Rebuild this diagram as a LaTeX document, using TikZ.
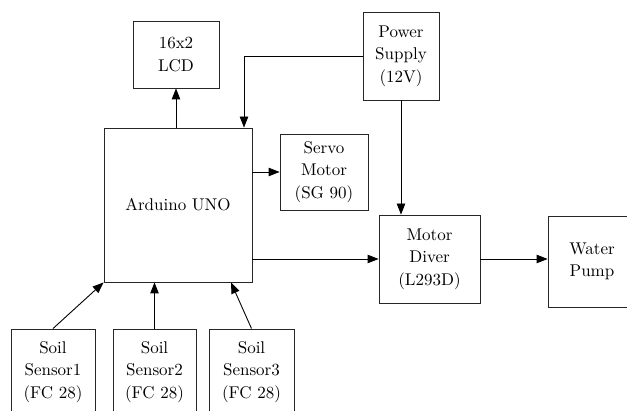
\documentclass[tikz,border=0pt]{standalone}
\usepackage{fontspec}
\setmainfont{lmroman10-regular.otf}
\usetikzlibrary{arrows.meta,calc}
\begin{document}
\begin{tikzpicture}[x=1pt,y=-1pt,
  blk/.style={draw=black!85,line width=0.9pt,rectangle,inner sep=0pt,align=center,
    font=\fontsize{17}{22.5}\selectfont},
  arr/.style={draw=black,line width=0.9pt,-{Triangle[length=11pt,width=8.5pt]}}]
\clip (0,0) rectangle (627,411);
\fill[white] (0,0) rectangle (627,411);
\node[blk,minimum width=86,minimum height=67] (lcd) at (176,54.5) {16x2\\LCD};
\node[blk,minimum width=148,minimum height=154] (ard) at (178,205) {Arduino UNO};
\node[blk,minimum width=76,minimum height=88] (pow) at (401,56) {Power\\Supply\\(12V)};
\node[blk,minimum width=88,minimum height=76] (servo) at (324,172) {Servo\\Motor\\(SG 90)};
\node[blk,minimum width=101,minimum height=88] (mot) at (429.5,259) {Motor\\Diver\\(L293D)};
\node[blk,minimum width=88,minimum height=91] (pump) at (592,261.5) {Water\\Pump};
\node[blk,minimum width=84,minimum height=86] (s1) at (53,372) {Soil\\Sensor1\\(FC 28)};
\node[blk,minimum width=83,minimum height=86] (s2) at (154.5,372) {Soil\\Sensor2\\(FC 28)};
\node[blk,minimum width=85,minimum height=86] (s3) at (251.5,372) {Soil\\Sensor3\\(FC 28)};
\draw[arr] (pow.west) -| ([xshift=66pt]ard.north);
\draw[arr] (pow.south) -- (pow.south |- mot.north);
\draw[arr] (lcd.south |- ard.north) -- (lcd.south);
\draw[arr] (servo.west -| ard.east) -- (servo.west);
\draw[arr] (mot.west -| ard.east) -- (mot.west);
\draw[arr] (mot.east) -- (mot.east -| pump.west);
\draw[arr] (s1.north) -- (ard.south west);
\draw[arr] (s2.north) -- (s2.north |- ard.south);
\draw[arr] (s3.north) -- ([xshift=53pt]ard.south);
\end{tikzpicture}
\end{document}
